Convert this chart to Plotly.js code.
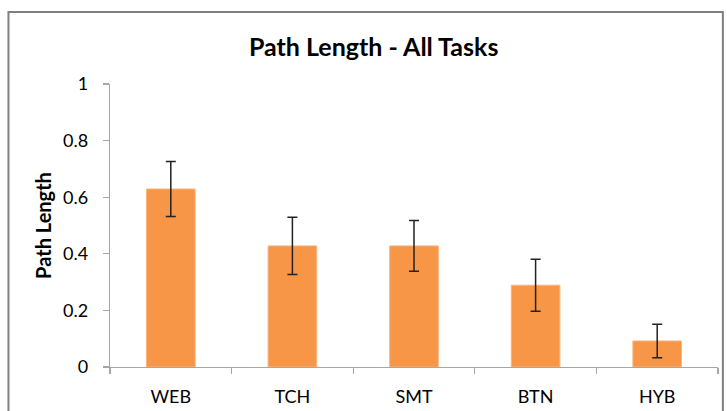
<!DOCTYPE html>
<html>
<head>
<meta charset="utf-8">
<script src="https://cdn.plot.ly/plotly-3.0.1.min.js"></script>
<style>html,body{margin:0;padding:0;background:#fff;}#chart{width:727px;height:411px;}</style>
</head>
<body>
<div id="chart"></div>
<script>
var categories = ["WEB", "TCH", "SMT", "BTN", "HYB"];
var pathLength = [0.629, 0.428, 0.428, 0.289, 0.092];
var errorValues = [0.097, 0.101, 0.090, 0.092, 0.059];
var yTickValues = [0, 0.2, 0.4, 0.6, 0.8, 1];
var yTickLabels = ["0", "0.2", "0.4", "0.6", "0.8", "1"];

var FONT = "Lato, 'Open Sans', sans-serif";

var trace = {
  type: "bar",
  x: categories,
  y: pathLength,
  marker: {color: "#F79646", line: {color: "#FBB57F", width: 1}},
  width: 0.4,
  error_y: {type: "data", array: errorValues, visible: true, color: "#222222", thickness: 1.5, width: 5}
};

var layout = {
  width: 727, height: 411,
  margin: {l: 110, r: 9, t: 84, b: 44, pad: 0},
  paper_bgcolor: "#ffffff", plot_bgcolor: "#ffffff",
  showlegend: false,
  title: {text: "<b>Path Length - All Tasks</b>", font: {family: FONT, size: 25, color: "#000"},
          xref: "container", x: 0.514, xanchor: "center", yref: "container", y: 0.885, yanchor: "middle"},
  xaxis: {
    showline: true, linecolor: "#a6a6a6", linewidth: 1.2,
    ticks: "outside", tickson: "boundaries", ticklen: 6, tickcolor: "#a6a6a6", tickwidth: 1.2,
    tickfont: {family: FONT, size: 18, color: "#000"},
    ticklabelstandoff: 13,
    showgrid: false, zeroline: false, fixedrange: true
  },
  yaxis: {
    range: [0, 1], tickvals: yTickValues, ticktext: yTickLabels,
    showline: true, linecolor: "#a6a6a6", linewidth: 1.2,
    ticks: "outside", ticklen: 6, tickcolor: "#a6a6a6", tickwidth: 1.2,
    tickfont: {family: FONT, size: 18, color: "#000"},
    ticklabelstandoff: 11,
    showgrid: false, zeroline: false, fixedrange: true,
    title: {text: "<b>Path Length</b>", font: {family: FONT, size: 20, color: "#000"}, standoff: 6}
  },
  shapes: [{
    type: "rect", xref: "paper", yref: "paper",
    x0: -0.167, x1: 1.008, y0: -0.3, y1: 1.254,
    line: {color: "#7f7f7f", width: 2}, fillcolor: "rgba(0,0,0,0)", layer: "below"
  }]
};

Plotly.newPlot("chart", [trace], layout, {displayModeBar: false, staticPlot: true});
</script>
</body>
</html>
